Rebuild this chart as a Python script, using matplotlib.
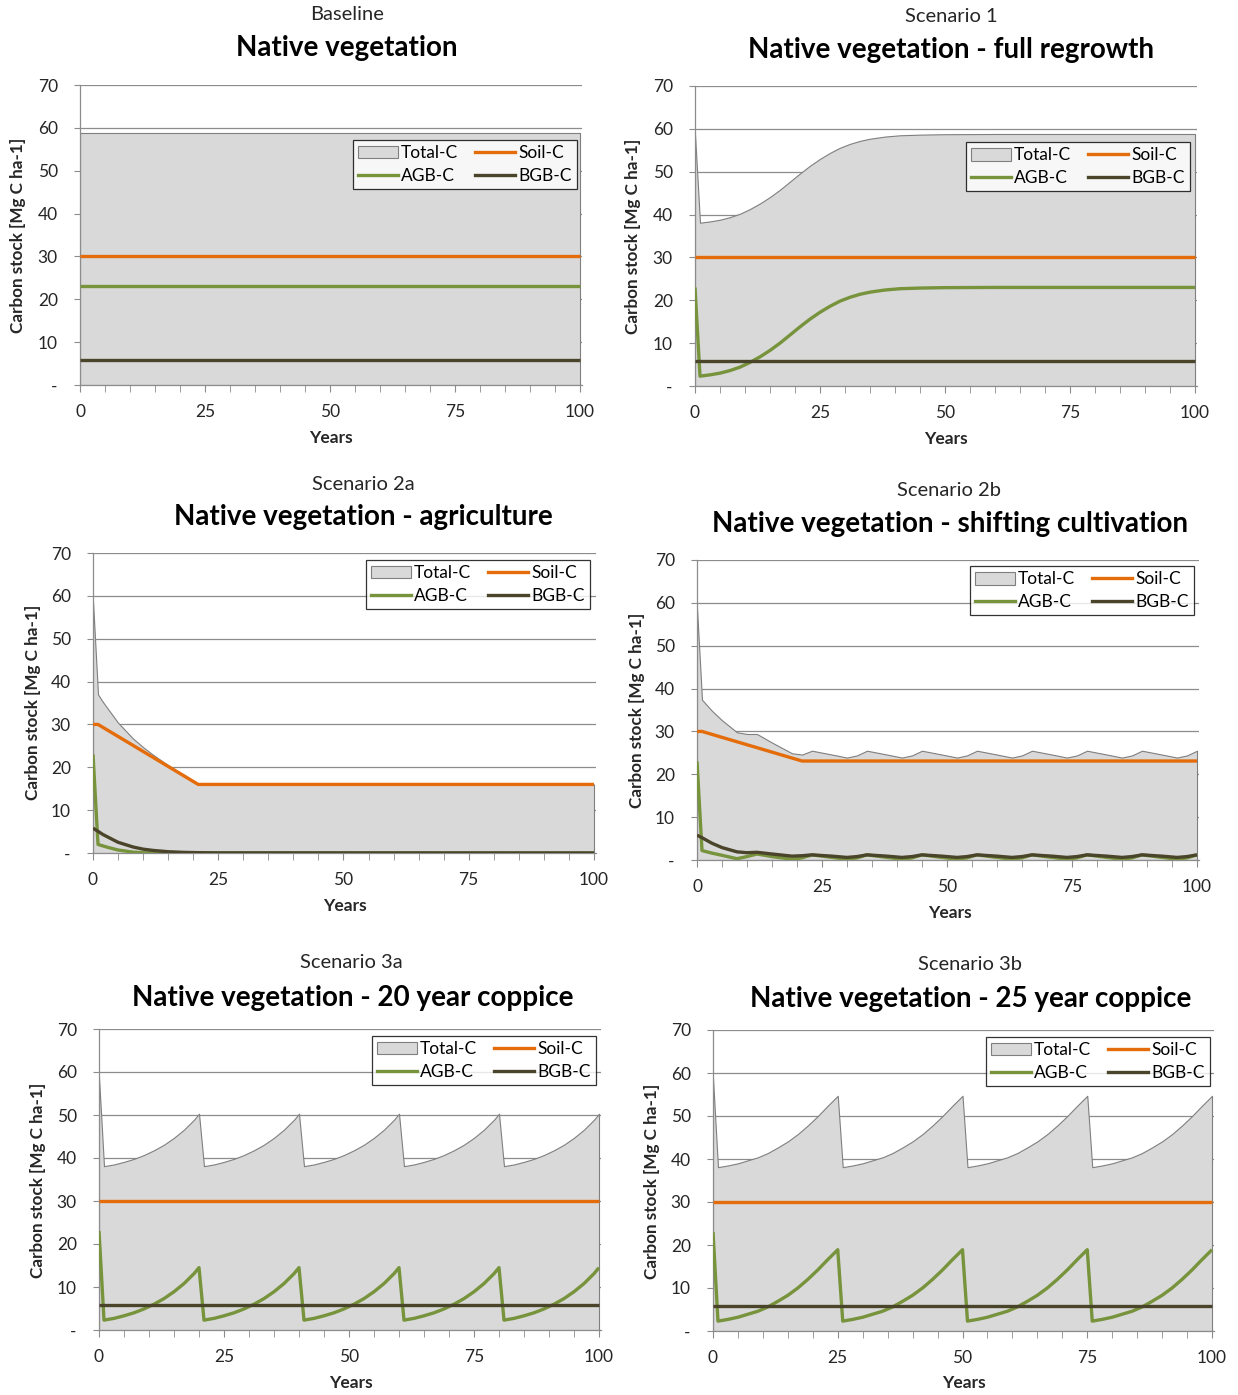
import matplotlib
matplotlib.use("Agg")
import matplotlib.pyplot as plt
from matplotlib.patches import Patch
from matplotlib.lines import Line2D

plt.rcParams['font.family'] = ['Lato', 'DejaVu Sans']

W, H = 1238, 1395

# ---------------- data (Mg C ha-1 over 100 years) ----------------
# Baseline
base_total_yr = [0, 100]
base_total = [58.8, 58.8]
base_soil_yr = [0, 100]
base_soil = [30, 30]
base_agb_yr = [0, 100]
base_agb = [23, 23]
base_bgb_yr = [0, 100]
base_bgb = [5.8, 5.8]

# Scenario 1 - full regrowth
s1_yr = [0, 1, 3, 5, 7, 9, 11, 13, 15, 17, 19, 21, 23, 25, 27, 29, 31, 33, 35, 38, 41, 45, 50, 60, 100]
s1_agb = [23.0, 2.3, 2.6, 3.0, 3.6, 4.4, 5.5, 6.8, 8.3, 10.0, 11.9, 13.8, 15.6, 17.2, 18.6,
          19.8, 20.7, 21.4, 21.9, 22.4, 22.7, 22.85, 22.95, 23.0, 23.0]
s1_total = [58.8, 38.1, 38.4, 38.8, 39.4, 40.2, 41.3, 42.6, 44.1, 45.8, 47.7, 49.6, 51.4, 53.0,
            54.4, 55.6, 56.5, 57.2, 57.7, 58.2, 58.5, 58.65, 58.75, 58.8, 58.8]
s1_soil_yr = [0, 100]
s1_soil = [30, 30]
s1_bgb_yr = [0, 100]
s1_bgb = [5.8, 5.8]

# Scenario 2a - agriculture
s2a_total_yr = [0, 1, 2, 3, 5, 8, 10, 12, 15, 18, 21, 25, 100]
s2a_total = [58.8, 37.0, 35.2, 33.6, 30.4, 26.7, 24.7, 22.9, 20.5, 18.3, 16.1, 16.0, 16.0]
s2a_soil_yr = [0, 1, 21, 100]
s2a_soil = [30, 30, 16, 16]
s2a_agb_yr = [0, 1, 3, 5, 8, 10, 15, 100]
s2a_agb = [23.0, 2.0, 1.3, 0.7, 0.2, 0.05, 0, 0]
s2a_bgb_yr = [0, 2, 5, 8, 10, 12, 15, 18, 21, 25, 100]
s2a_bgb = [5.8, 4.3, 2.5, 1.4, 0.9, 0.6, 0.3, 0.15, 0.08, 0.03, 0]

# Scenario 2b - shifting cultivation
s2b_yr = [0, 1, 3, 5, 8, 10, 12, 15, 19, 21, 23,
          27, 30, 32, 34, 38, 41, 43, 45, 49, 52, 54, 56, 60, 63, 65, 67,
          71, 74, 76, 78, 82, 85, 87, 89, 93, 96, 98, 100]
s2b_agb = [23.0, 2.2, 1.6, 1.1, 0.3, 0.8, 1.4, 0.8, 0.2, 0.5, 1.2,
           0.6, 0.2, 0.5, 1.2, 0.6, 0.2, 0.5, 1.2, 0.6, 0.2, 0.5, 1.2, 0.6, 0.2, 0.5, 1.2,
           0.6, 0.2, 0.5, 1.2, 0.6, 0.2, 0.5, 1.2, 0.6, 0.2, 0.5, 1.2]
s2b_bgb = [5.8, 5.2, 3.9, 2.9, 1.9, 1.7, 1.8, 1.4, 0.9, 1.0, 1.2,
           0.9, 0.6, 0.8, 1.2, 0.9, 0.6, 0.8, 1.2, 0.9, 0.6, 0.8, 1.2, 0.9, 0.6, 0.8, 1.2,
           0.9, 0.6, 0.8, 1.2, 0.9, 0.6, 0.8, 1.2, 0.9, 0.6, 0.8, 1.2]
s2b_total = [58.8, 37.4, 34.8, 32.6, 29.8, 29.4, 29.4, 27.4, 24.9, 24.6, 25.5,
             24.6, 23.9, 24.4, 25.5, 24.6, 23.9, 24.4, 25.5, 24.6, 23.9, 24.4, 25.5,
             24.6, 23.9, 24.4, 25.5, 24.6, 23.9, 24.4, 25.5, 24.6, 23.9, 24.4, 25.5,
             24.6, 23.9, 24.4, 25.5]
s2b_soil_yr = [0, 1, 21, 100]
s2b_soil = [30, 30, 23.1, 23.1]

# Scenario 3a - 20 year coppice (harvest after years 20, 40, 60, 80)
s3a_yr = [0,
          1, 3, 5, 7, 9, 11, 13, 15, 17, 19, 20,
          21, 23, 25, 27, 29, 31, 33, 35, 37, 39, 40,
          41, 43, 45, 47, 49, 51, 53, 55, 57, 59, 60,
          61, 63, 65, 67, 69, 71, 73, 75, 77, 79, 80,
          81, 83, 85, 87, 89, 91, 93, 95, 97, 99, 100]
s3a_agb = [23.0,
           2.3, 2.7, 3.3, 4.0, 4.9, 6.0, 7.3, 8.9, 10.8, 13.1, 14.5,
           2.3, 2.7, 3.3, 4.0, 4.9, 6.0, 7.3, 8.9, 10.8, 13.1, 14.5,
           2.3, 2.7, 3.3, 4.0, 4.9, 6.0, 7.3, 8.9, 10.8, 13.1, 14.5,
           2.3, 2.7, 3.3, 4.0, 4.9, 6.0, 7.3, 8.9, 10.8, 13.1, 14.5,
           2.3, 2.7, 3.3, 4.0, 4.9, 6.0, 7.3, 8.9, 10.8, 13.1, 14.5]
s3a_total = [58.8,
             38.1, 38.5, 39.1, 39.8, 40.7, 41.8, 43.1, 44.7, 46.6, 48.9, 50.3,
             38.1, 38.5, 39.1, 39.8, 40.7, 41.8, 43.1, 44.7, 46.6, 48.9, 50.3,
             38.1, 38.5, 39.1, 39.8, 40.7, 41.8, 43.1, 44.7, 46.6, 48.9, 50.3,
             38.1, 38.5, 39.1, 39.8, 40.7, 41.8, 43.1, 44.7, 46.6, 48.9, 50.3,
             38.1, 38.5, 39.1, 39.8, 40.7, 41.8, 43.1, 44.7, 46.6, 48.9, 50.3]
s3a_soil_yr = [0, 100]
s3a_soil = [30, 30]
s3a_bgb_yr = [0, 100]
s3a_bgb = [5.8, 5.8]

# Scenario 3b - 25 year coppice (harvest after years 25, 50, 75)
s3b_yr = [0,
          1, 3, 5, 7, 9, 11, 13, 15, 17, 19, 21, 23, 25,
          26, 28, 30, 32, 34, 36, 38, 40, 42, 44, 46, 48, 50,
          51, 53, 55, 57, 59, 61, 63, 65, 67, 69, 71, 73, 75,
          76, 78, 80, 82, 84, 86, 88, 90, 92, 94, 96, 98, 100]
s3b_agb = [23.0,
           2.3, 2.7, 3.2, 3.9, 4.6, 5.6, 6.9, 8.3, 10.0, 12.0, 14.2, 16.6, 18.9,
           2.3, 2.7, 3.2, 3.9, 4.6, 5.6, 6.9, 8.3, 10.0, 12.0, 14.2, 16.6, 18.9,
           2.3, 2.7, 3.2, 3.9, 4.6, 5.6, 6.9, 8.3, 10.0, 12.0, 14.2, 16.6, 18.9,
           2.3, 2.7, 3.2, 3.9, 4.6, 5.6, 6.9, 8.3, 10.0, 12.0, 14.2, 16.6, 18.9]
s3b_total = [58.8,
             38.1, 38.5, 39.0, 39.7, 40.4, 41.4, 42.7, 44.1, 45.8, 47.8, 50.0, 52.4, 54.7,
             38.1, 38.5, 39.0, 39.7, 40.4, 41.4, 42.7, 44.1, 45.8, 47.8, 50.0, 52.4, 54.7,
             38.1, 38.5, 39.0, 39.7, 40.4, 41.4, 42.7, 44.1, 45.8, 47.8, 50.0, 52.4, 54.7,
             38.1, 38.5, 39.0, 39.7, 40.4, 41.4, 42.7, 44.1, 45.8, 47.8, 50.0, 52.4, 54.7]
s3b_soil_yr = [0, 100]
s3b_soil = [30, 30]
s3b_bgb_yr = [0, 100]
s3b_bgb = [5.8, 5.8]

y_ticks = [0, 10, 20, 30, 40, 50, 60, 70]
y_labels = ['-', '10', '20', '30', '40', '50', '60', '70']
x_ticks = [0, 25, 50, 75, 100]

FILL = '#d9d9d9'
EDGE = '#7f7f7f'
ORANGE = '#e46c0a'
GREEN = '#77933c'
BROWN = '#4a452a'
GRID = '#8c8c8c'
TXT = '#262626'

fig = plt.figure(figsize=(W / 100, H / 100), dpi=100)


def px_rect(l, t, r, b):
    return [l / W, 1 - b / H, (r - l) / W, (b - t) / H]


def draw_panel(box, sub, title, sub_xy, title_xy, ylab_xy, years_xy, leg_xy,
               tot, soil, agb, bgb):
    ax = fig.add_axes(px_rect(*box))
    ax.fill_between(tot[0], 0, tot[1], facecolor=FILL, edgecolor=EDGE, lw=0.8, zorder=2)
    ax.plot(soil[0], soil[1], color=ORANGE, lw=2.4, zorder=3, solid_capstyle='butt')
    ax.plot(agb[0], agb[1], color=GREEN, lw=2.4, zorder=4, solid_capstyle='butt')
    ax.plot(bgb[0], bgb[1], color=BROWN, lw=2.4, zorder=5, solid_capstyle='butt')

    ax.set_xlim(0, 100.4)
    ax.set_ylim(0, 70)
    ax.set_yticks(y_ticks)
    ax.set_yticklabels(y_labels)
    ax.set_xticks(x_ticks)
    ax.set_xticks(range(0, 101, 5), minor=True)
    ax.yaxis.grid(True, color=GRID, lw=0.9)
    ax.set_axisbelow(True)
    for s in ['top', 'right']:
        ax.spines[s].set_visible(False)
    for s in ['left', 'bottom']:
        ax.spines[s].set_color(GRID)
        ax.spines[s].set_linewidth(0.9)
    ax.tick_params(axis='y', which='both', direction='out', length=4, color=GRID,
                   labelsize=12.5, labelcolor=TXT, pad=12)
    ax.tick_params(axis='x', which='both', direction='out', length=5, color=GRID,
                   labelsize=12.5, labelcolor=TXT, pad=9)

    handles = [Patch(facecolor=FILL, edgecolor=EDGE, lw=0.8),
               Line2D([], [], color=GREEN, lw=2.4),
               Line2D([], [], color=ORANGE, lw=2.4),
               Line2D([], [], color=BROWN, lw=2.4)]
    labels = ['Total-C', 'AGB-C', 'Soil-C', 'BGB-C']
    leg = ax.legend(handles, labels, ncol=2, loc='upper right', bbox_to_anchor=leg_xy,
                    borderaxespad=0, frameon=True, fancybox=False, fontsize=12.5,
                    handlelength=2.3, handleheight=0.75, handletextpad=0.17,
                    columnspacing=1.0, labelspacing=0.4, borderpad=0.3)
    leg.get_frame().set_edgecolor('black')
    leg.get_frame().set_linewidth(0.9)
    leg.set_zorder(10)

    fig.text(sub_xy[0] / W, 1 - sub_xy[1] / H, sub, ha='center', va='center',
             fontsize=14.5, color=TXT)
    fig.text(title_xy[0] / W, 1 - title_xy[1] / H, title, ha='center', va='center',
             fontsize=20, fontweight='bold', color='black')
    fig.text(ylab_xy[0] / W, 1 - ylab_xy[1] / H, 'Carbon stock [Mg C ha-1]', rotation=90,
             ha='center', va='center', fontsize=12.3, fontweight='bold', color=TXT)
    fig.text(years_xy[0] / W, 1 - years_xy[1] / H, 'Years', ha='center', va='center',
             fontsize=12.5, fontweight='bold', color=TXT)
    return ax


draw_panel((80, 85, 582, 385), 'Baseline', 'Native vegetation',
           (347, 15), (347, 48), (18, 235), (331, 438), (0.99, 0.817),
           (base_total_yr, base_total), (base_soil_yr, base_soil),
           (base_agb_yr, base_agb), (base_bgb_yr, base_bgb))

draw_panel((695, 86, 1197, 386), 'Scenario 1', 'Native vegetation - full regrowth',
           (951, 17), (951, 50), (633, 236), (946, 439), (0.986, 0.813),
           (s1_yr, s1_total), (s1_soil_yr, s1_soil),
           (s1_yr, s1_agb), (s1_bgb_yr, s1_bgb))

draw_panel((93, 553, 596, 853), 'Scenario 2a', 'Native vegetation - agriculture',
           (363, 484), (363, 517), (33, 702), (345, 906), (0.988, 0.977),
           (s2a_total_yr, s2a_total), (s2a_soil_yr, s2a_soil),
           (s2a_agb_yr, s2a_agb), (s2a_bgb_yr, s2a_bgb))

draw_panel((697, 560, 1199, 860), 'Scenario 2b', 'Native vegetation - shifting cultivation',
           (949, 491), (950, 524), (637, 710), (950, 913), (0.99, 0.98),
           (s2b_yr, s2b_total), (s2b_soil_yr, s2b_soil),
           (s2b_yr, s2b_agb), (s2b_yr, s2b_bgb))

draw_panel((99, 1029, 601, 1330), 'Scenario 3a', 'Native vegetation - 20 year coppice',
           (351, 963), (353, 998), (38, 1180), (351, 1383), (0.99, 0.977),
           (s3a_yr, s3a_total), (s3a_soil_yr, s3a_soil),
           (s3a_yr, s3a_agb), (s3a_bgb_yr, s3a_bgb))

draw_panel((713, 1030, 1214, 1331), 'Scenario 3b', 'Native vegetation - 25 year coppice',
           (970, 964), (971, 999), (652, 1181), (964, 1383), (0.992, 0.977),
           (s3b_yr, s3b_total), (s3b_soil_yr, s3b_soil),
           (s3b_yr, s3b_agb), (s3b_bgb_yr, s3b_bgb))

fig.savefig('out.png', dpi=100)
